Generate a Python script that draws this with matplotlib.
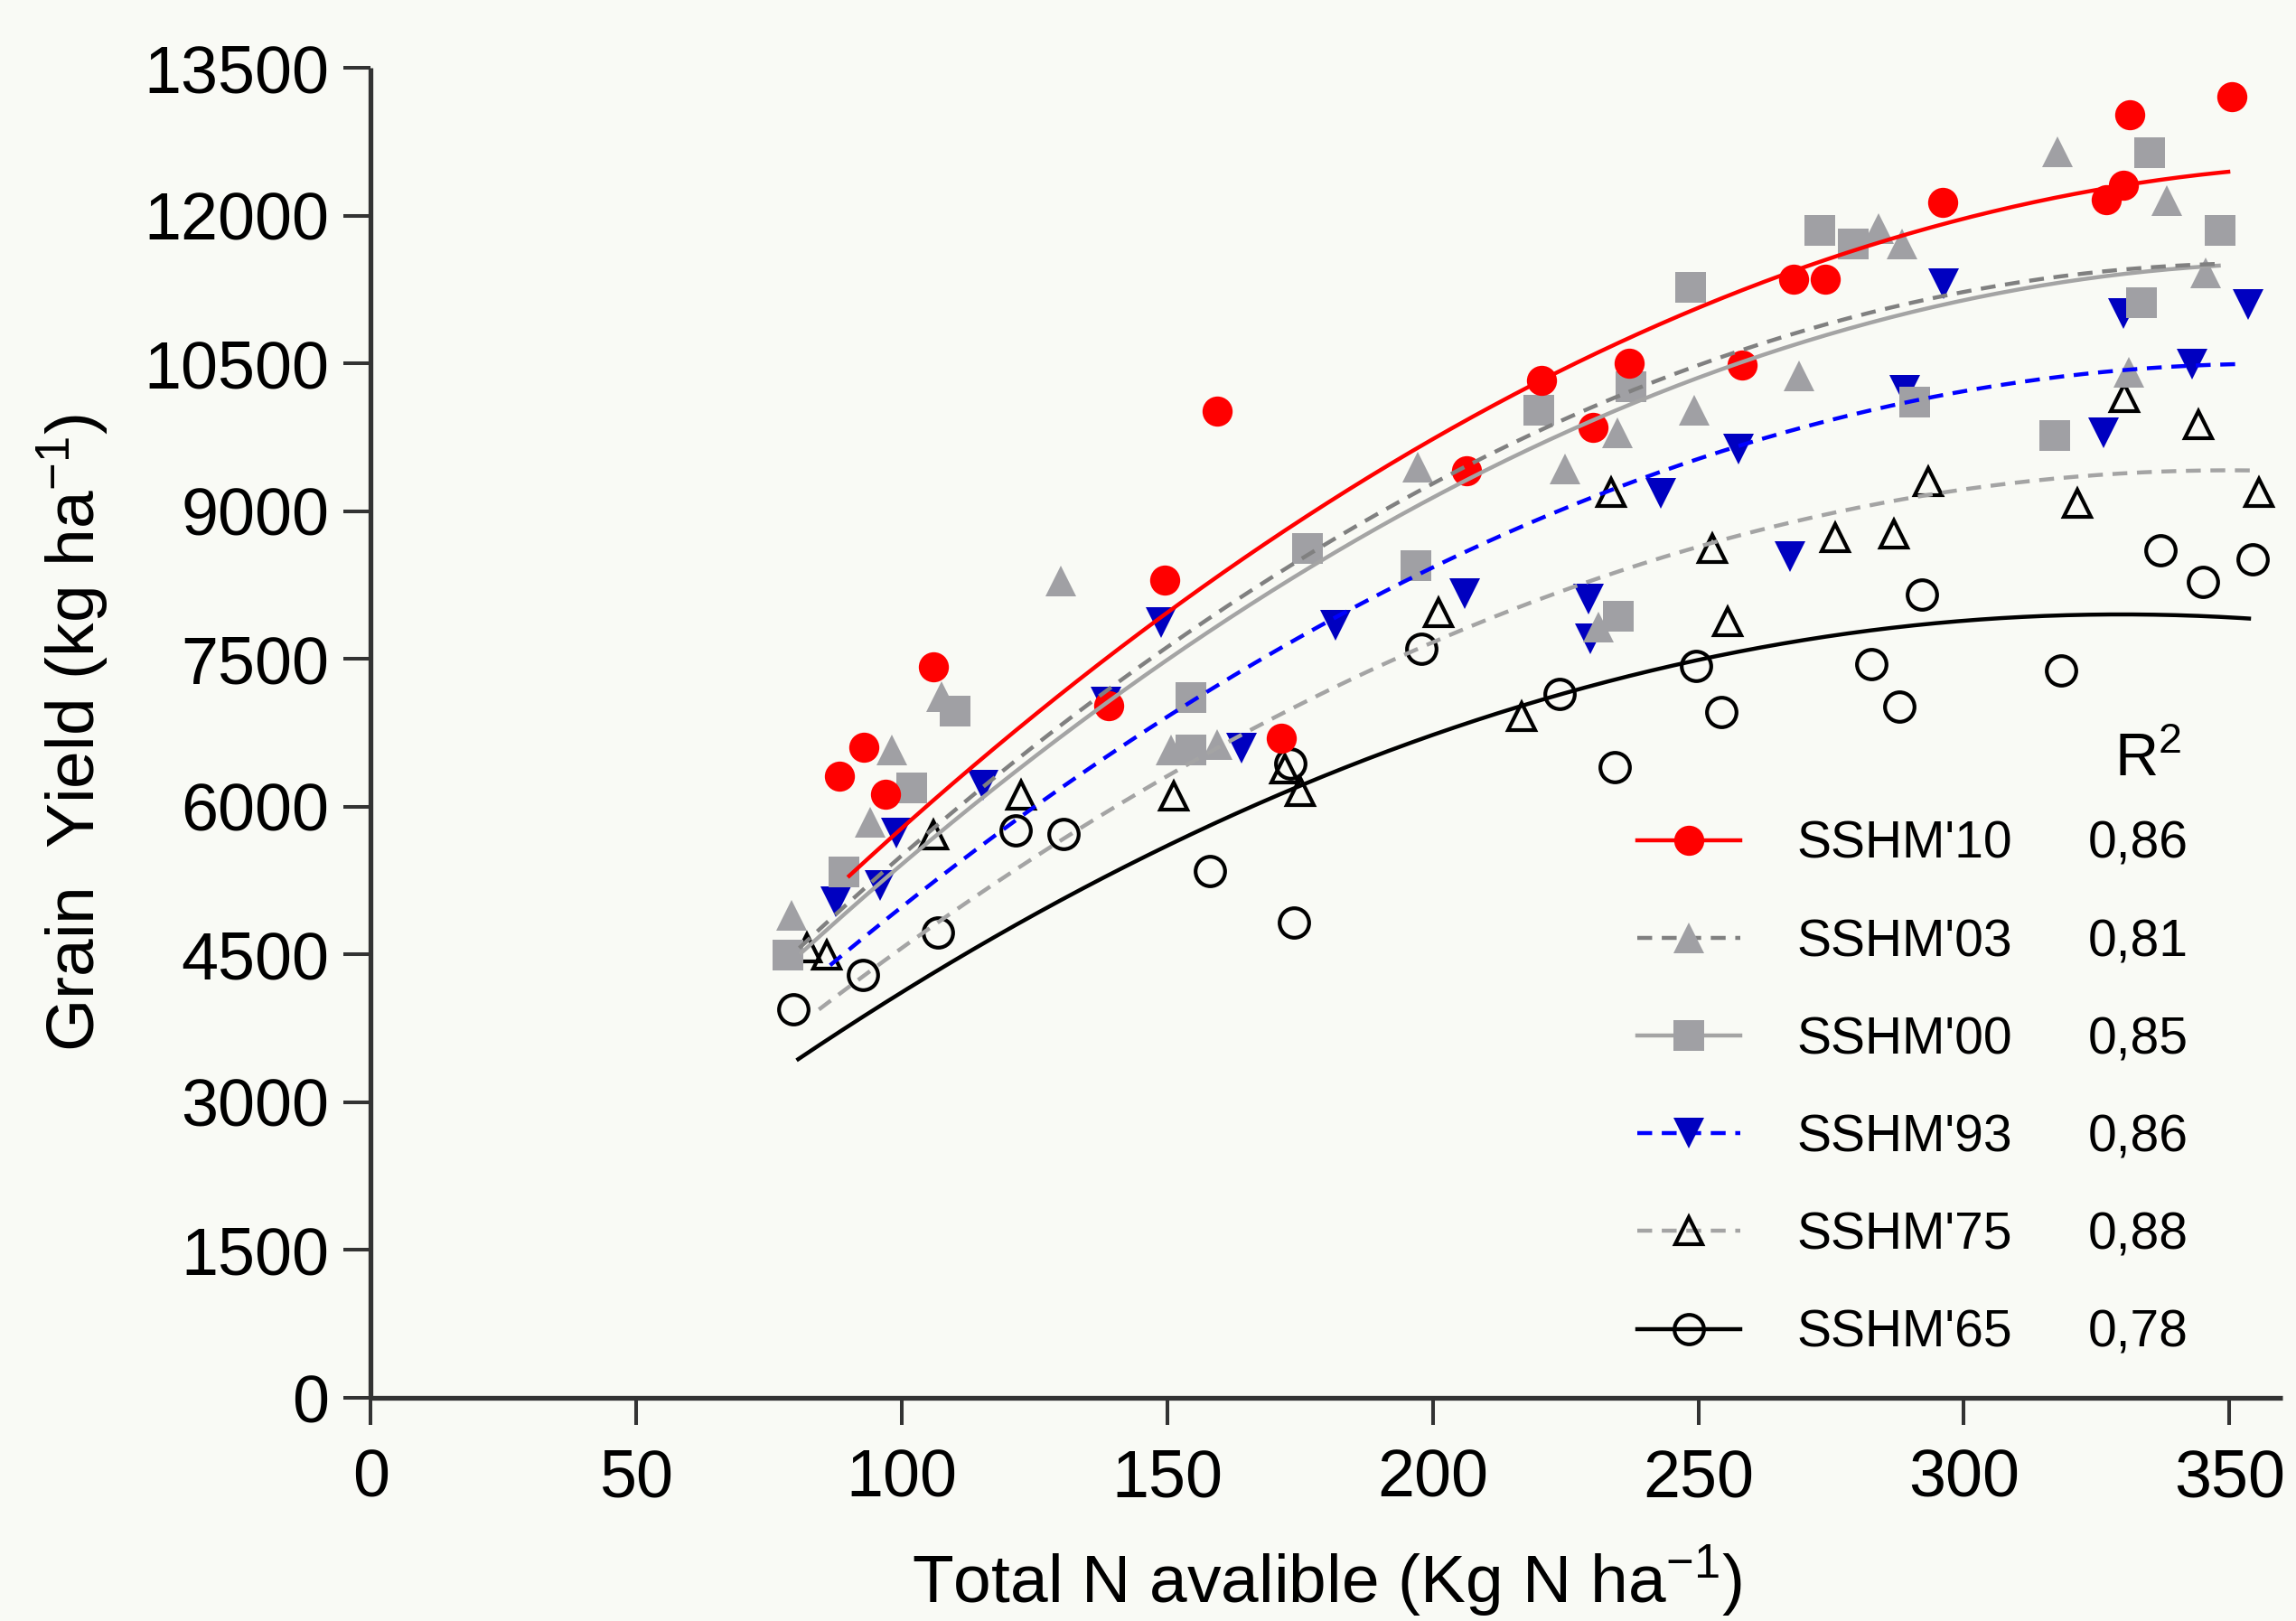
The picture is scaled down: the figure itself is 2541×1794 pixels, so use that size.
import numpy as np
import matplotlib
matplotlib.use('Agg')
import matplotlib.pyplot as plt
from matplotlib.lines import Line2D

plt.rcParams['font.family'] = ['Liberation Sans', 'DejaVu Sans']
plt.rcParams['mathtext.fontset'] = 'custom'
plt.rcParams['mathtext.rm'] = 'Liberation Sans'
plt.rcParams['mathtext.it'] = 'Liberation Sans:italic'
plt.rcParams['mathtext.bf'] = 'Liberation Sans:bold'

# ---------------- data ----------------
series_names = ["SSHM'10", "SSHM'03", "SSHM'00", "SSHM'93", "SSHM'75", "SSHM'65"]
r2_values = ["0,86", "0,81", "0,85", "0,86", "0,88", "0,78"]

x_ticks = [0, 50, 100, 150, 200, 250, 300, 350]
y_ticks = [0, 1500, 3000, 4500, 6000, 7500, 9000, 10500, 12000, 13500]

sshm10_x = [88.3, 92.9, 96.9, 106.0, 138.9, 149.6, 159.3, 171.5, 206.4, 220.5,
            230.2, 237.0, 258.3, 267.9, 273.9, 296.0, 326.8, 330.1, 331.3, 350.5]
sshm10_y = [6313, 6603, 6129, 7424, 7031, 8304, 10015, 6693, 9413, 10331,
            9851, 10507, 10486, 11360, 11360, 12135, 12168, 12311, 13029, 13213]

sshm03_x = [79.2, 94.0, 98.2, 107.5, 129.9, 150.7, 159.3, 197.2, 224.9, 231.2,
            234.7, 249.2, 268.9, 284.0, 288.3, 317.7, 331.1, 338.3, 345.5]
sshm03_y = [4900, 5845, 6574, 7119, 8294, 6574, 6628, 9446, 9429, 7829,
            9798, 10028, 10372, 11872, 11717, 12651, 10413, 12155, 11421]

sshm00_x = [78.6, 89.1, 101.8, 110.0, 154.5, 154.5, 176.4, 196.9, 220.0, 234.9,
            237.4, 248.6, 272.8, 279.2, 290.8, 317.2, 333.4, 334.9, 348.2]
sshm00_y = [4496, 5340, 6194, 6967, 7112, 6580, 8620, 8452, 10030, 7937,
            10261, 11274, 11852, 11717, 10110, 9765, 11122, 12639, 11852]

sshm93_x = [87.6, 95.9, 98.9, 115.3, 138.4, 148.9, 164.0, 181.6, 206.0, 229.4,
            229.6, 242.9, 257.5, 267.2, 288.9, 296.2, 326.3, 330.0, 343.0, 353.5]
sshm93_y = [5040, 5201, 5735, 6219, 7064, 7875, 6600, 7845, 8162, 8113,
            7707, 9183, 9634, 8539, 10232, 11306, 9798, 11011, 10494, 11101]

sshm75_x = [82.2, 85.9, 105.9, 122.5, 151.2, 172.2, 175.1, 201.0, 216.8, 233.6,
            252.7, 255.6, 275.8, 286.9, 293.3, 321.4, 330.2, 344.2, 355.6]
sshm75_y = [4566, 4493, 5717, 6119, 6113, 6388, 6151, 7968, 6914, 9187,
            8621, 7880, 8736, 8765, 9301, 9080, 10150, 9880, 9195]

sshm65_x = [79.6, 92.6, 106.8, 121.4, 130.4, 158.0, 173.2, 173.9, 197.8, 223.8,
            234.2, 249.5, 254.3, 282.6, 287.8, 292.1, 318.3, 337.1, 345.1, 354.4]
sshm65_y = [3948, 4293, 4728, 5758, 5726, 5346, 6435, 4824, 7604, 7142,
            6399, 7430, 6960, 7450, 7017, 8158, 7380, 8601, 8281, 8511]

# quadratic regression curves (y = a x^2 + b x + c), coefficients
fit_a = [-0.0856, -0.0915, -0.0860, -0.0829, -0.0776, -0.0727]
fit_b = [65.18, 65.21, 63.04, 59.34, 54.32, 47.94]
fit_c = [120.9, -100.5, -28.9, -121.5, -89.8, 49.9]
fit_xmin = [90.1, 80.7, 81.1, 86.5, 84.4, 80.5]
fit_xmax = [349.8, 348.0, 348.0, 351.7, 355.3, 353.7]

# ---------------- styles ----------------
BG = '#F9FAF5'
GRAY_M = '#A0A0A4'
styles = [
    dict(marker='o', mfc='#FF0000', mec='#FF0000', mew=0, ms=24,
         lc='#FF0000', ls='solid'),
    dict(marker='^', mfc=GRAY_M, mec=GRAY_M, mew=0, ms=24.5,
         lc='#808080', ls='dashed'),
    dict(marker='s', mfc=GRAY_M, mec=GRAY_M, mew=0, ms=24,
         lc='#A4A4A4', ls='solid'),
    dict(marker='v', mfc='#0000C0', mec='#0000C0', mew=0, ms=24.5,
         lc='#0000FF', ls='dashed'),
    dict(marker='^', mfc='none', mec='black', mew=3.0, ms=22,
         lc='#A4A4A4', ls='dashed'),
    dict(marker='o', mfc='none', mec='black', mew=3.0, ms=23.5,
         lc='black', ls='solid'),
]
xs = [sshm10_x, sshm03_x, sshm00_x, sshm93_x, sshm75_x, sshm65_x]
ys = [sshm10_y, sshm03_y, sshm00_y, sshm93_y, sshm75_y, sshm65_y]
marker_z = [8, 5, 6, 4, 3, 2]
LW = 3.2
DASH = (3.7, 2.4)

W, H = 2541, 1794
fig = plt.figure(figsize=(W / 100, H / 100), dpi=100, facecolor=BG)
ax = fig.add_axes([410.3 / W, (H - 1547) / H, 360 * 5.877 / W, (1547 - 75.3) / H])
ax.set_facecolor(BG)

for i in range(6):
    s = styles[i]
    ax.plot(xs[i], ys[i], linestyle='none', marker=s['marker'], ms=s['ms'],
            mfc=s['mfc'], mec=s['mec'], mew=s['mew'], zorder=marker_z[i],
            clip_on=False)

for i in range(6):
    s = styles[i]
    xf = np.linspace(fit_xmin[i], fit_xmax[i], 200)
    yf = fit_a[i] * xf ** 2 + fit_b[i] * xf + fit_c[i]
    ln, = ax.plot(xf, yf, color=s['lc'], lw=LW, zorder=10 + (6 - i))
    if s['ls'] == 'dashed':
        ln.set_dashes(DASH)

ax.set_xlim(0, 360)
ax.set_ylim(0, 13500)
ax.set_xticks(x_ticks)
ax.set_yticks(y_ticks)
ax.set_xticklabels([str(v) for v in x_ticks])
ax.set_yticklabels([str(v) for v in y_ticks])

for side in ['top', 'right']:
    ax.spines[side].set_visible(False)
for side in ['left', 'bottom']:
    ax.spines[side].set_linewidth(3.8)
    ax.spines[side].set_color('#333333')
    ax.spines[side].set_capstyle('butt')
ax.tick_params(axis='both', direction='out', length=21.6, width=2.9,
               color='#333333', labelsize=53, labelcolor='black')
ax.tick_params(axis='x', pad=18)
ax.tick_params(axis='y', pad=11.5)

ax.set_xlabel(r"Total N avalible (Kg N ha$^{\mathregular{-1}}$)", fontsize=54, labelpad=26)
ax.set_ylabel(r"Grain  Yield (kg ha$^{\mathregular{-1}}$)", fontsize=54, labelpad=26)

# legend
handles = []
for i in range(6):
    s = styles[i]
    h = Line2D([0], [0], color=s['lc'], lw=LW, marker=s['marker'], ms=s['ms'],
               mfc=s['mfc'], mec=s['mec'], mew=s['mew'])
    if s['ls'] == 'dashed':
        h.set_dashes(DASH)
    handles.append(h)

leg = ax.legend(handles, series_names, loc='upper left',
                bbox_to_anchor=(1812 / W, 1 - 908 / H), bbox_transform=fig.transFigure,
                frameon=False, fontsize=41, handlelength=2.0, handletextpad=1.1,
                labelspacing=0.95, borderpad=0, borderaxespad=0, numpoints=1)
leg.set_zorder(20)

fig.canvas.draw()
renderer = fig.canvas.get_renderer()
for t, val in zip(leg.get_texts(), r2_values):
    bb = t.get_window_extent(renderer)
    yc = (bb.y0 + bb.y1) / 2
    fig.text(2311 / W, yc / H, val, fontsize=41, ha='left', va='center')

fig.text(2340 / W, 1 - 859 / H, r"R$^{\mathregular{2}}$", fontsize=48, ha='left',
         va='baseline')

fig.savefig('out.png', dpi=100, facecolor=BG)
